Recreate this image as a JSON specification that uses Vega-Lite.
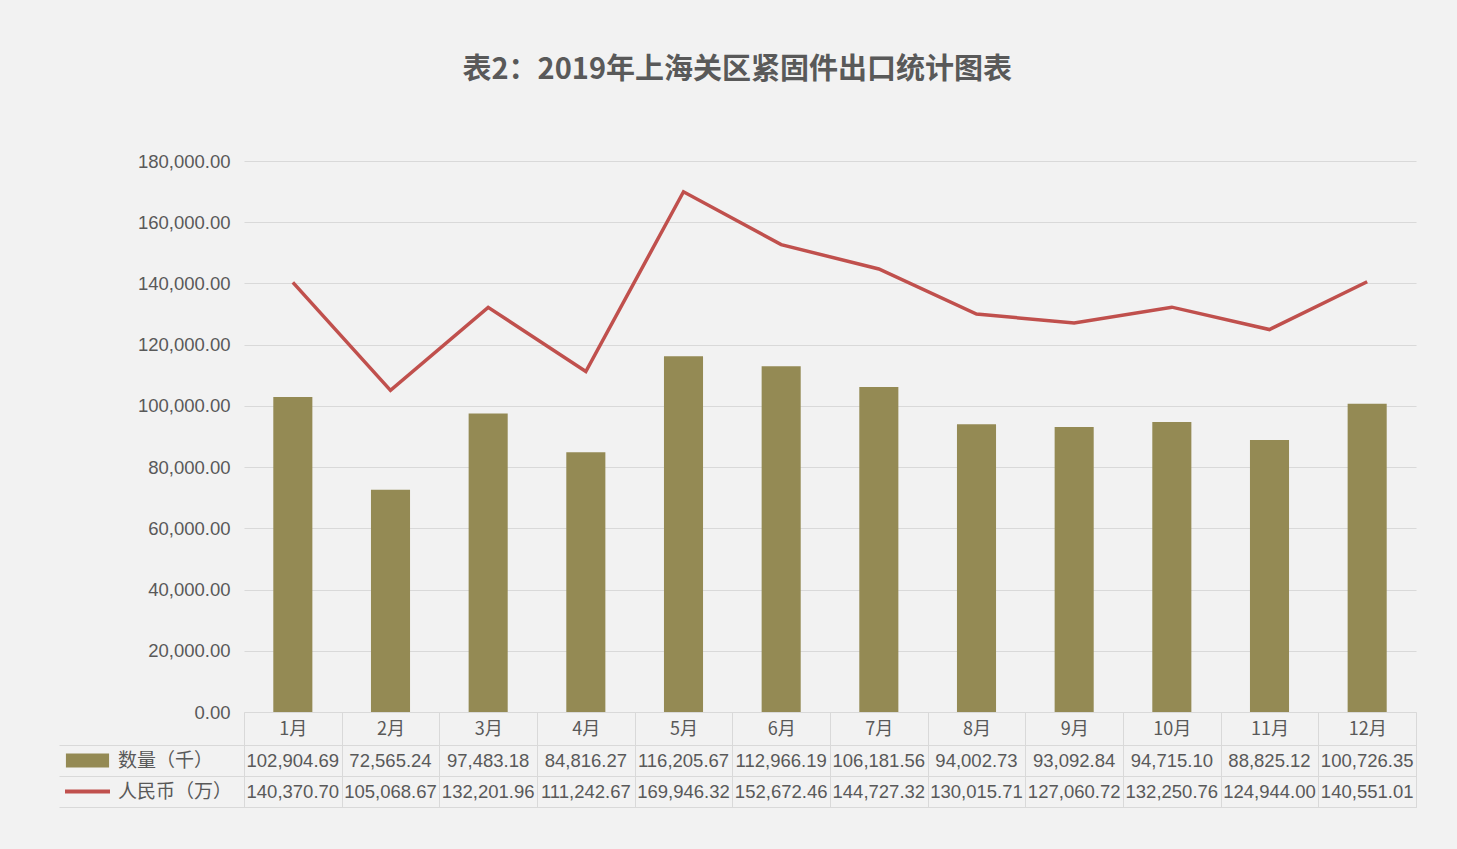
{
  "$schema": "https://vega.github.io/schema/vega-lite/v6.json",
  "background": "#F2F2F2",
  "padding": {"left": 58, "right": 42, "top": 56, "bottom": 43},
  "autosize": {"type": "pad"},
  "datasets": {
    "d": [
      {"month": "1月", "series": "数量（千）", "value": 102904.69},
      {"month": "2月", "series": "数量（千）", "value": 72565.24},
      {"month": "3月", "series": "数量（千）", "value": 97483.18},
      {"month": "4月", "series": "数量（千）", "value": 84816.27},
      {"month": "5月", "series": "数量（千）", "value": 116205.67},
      {"month": "6月", "series": "数量（千）", "value": 112966.19},
      {"month": "7月", "series": "数量（千）", "value": 106181.56},
      {"month": "8月", "series": "数量（千）", "value": 94002.73},
      {"month": "9月", "series": "数量（千）", "value": 93092.84},
      {"month": "10月", "series": "数量（千）", "value": 94715.10},
      {"month": "11月", "series": "数量（千）", "value": 88825.12},
      {"month": "12月", "series": "数量（千）", "value": 100726.35},
      {"month": "1月", "series": "人民币（万）", "value": 140370.70},
      {"month": "2月", "series": "人民币（万）", "value": 105068.67},
      {"month": "3月", "series": "人民币（万）", "value": 132201.96},
      {"month": "4月", "series": "人民币（万）", "value": 111242.67},
      {"month": "5月", "series": "人民币（万）", "value": 169946.32},
      {"month": "6月", "series": "人民币（万）", "value": 152672.46},
      {"month": "7月", "series": "人民币（万）", "value": 144727.32},
      {"month": "8月", "series": "人民币（万）", "value": 130015.71},
      {"month": "9月", "series": "人民币（万）", "value": 127060.72},
      {"month": "10月", "series": "人民币（万）", "value": 132250.76},
      {"month": "11月", "series": "人民币（万）", "value": 124944.00},
      {"month": "12月", "series": "人民币（万）", "value": 140551.01}
    ]
  },
  "data": {"name": "d"},
  "title": {
    "text": "表2：2019年上海关区紧固件出口统计图表",
    "font": "Noto Sans CJK SC",
    "fontSize": 29,
    "fontWeight": "bold",
    "color": "#595959",
    "anchor": "middle",
    "offset": 67
  },
  "bounds": "flush",
  "spacing": 33,
  "resolve": {"legend": {"color": "independent"}, "scale": {"color": "independent"}},
  "vconcat": [
    {
      "width": 1172,
      "height": 551,
      "encoding": {
        "x": {
          "field": "month",
          "type": "nominal",
          "sort": ["1月","2月","3月","4月","5月","6月","7月","8月","9月","10月","11月","12月"],
          "scale": {"paddingInner": 0, "paddingOuter": 0},
          "axis": {
            "title": null,
            "labelAngle": 0,
            "labelFont": "Noto Sans CJK SC",
            "labelFontSize": 18,
            "labelColor": "#595959",
            "labelBaseline": "middle",
            "labelPadding": -16,
            "tickBand": "extent",
            "tickSize": 33,
            "tickColor": "#D9D9D9",
            "domainColor": "#D9D9D9",
            "grid": false
          }
        },
        "y": {
          "field": "value",
          "type": "quantitative",
          "scale": {"domain": [0, 180000], "nice": false},
          "axis": {
            "title": null,
            "values": [0, 20000, 40000, 60000, 80000, 100000, 120000, 140000, 160000, 180000],
            "format": ",.2f",
            "labelFont": "Liberation Sans",
            "labelFontSize": 18.5,
            "labelColor": "#595959",
            "labelPadding": 14,
            "ticks": false,
            "domain": false,
            "gridColor": "#D9D9D9",
            "gridWidth": 1
          }
        },
        "color": {
          "field": "series",
          "type": "nominal",
          "scale": {"domain": ["数量（千）", "人民币（万）"], "range": ["#948A54", "#C0504D"]},
          "legend": {
            "orient": "none",
            "direction": "vertical",
            "legendX": -181,
            "legendY": 584,
            "title": null,
            "padding": 0,
            "clipHeight": 31,
            "rowPadding": 0,
            "symbolSize": 2025,
            "labelOffset": 6,
            "labelFont": "Noto Sans CJK SC",
            "labelFontSize": 19,
            "labelColor": "#595959",
            "encode": {
              "symbols": {
                "update": {
                  "shape": {"signal": "datum.value === '数量（千）' ? 'M-0.87,-0.22H0.87V0.22H-0.87Z' : 'stroke'"},
                  "fill": {"signal": "datum.value === '数量（千）' ? '#948A54' : 'transparent'"},
                  "stroke": {"signal": "datum.value === '数量（千）' ? 'transparent' : '#C0504D'"},
                  "strokeWidth": {"value": 4},
                  "opacity": {"value": 1}
                }
              }
            }
          }
        }
      },
      "layer": [
        {
          "transform": [{"filter": "datum.series === '数量（千）'"}],
          "mark": {"type": "bar", "width": {"band": 0.4}}
        },
        {
          "transform": [{"filter": "datum.series === '人民币（万）'"}],
          "mark": {"type": "line", "strokeWidth": 3.5}
        }
      ]
    },
    {
      "width": 1172,
      "height": 62,
      "view": {"stroke": "#D9D9D9"},
      "mark": {"type": "text", "font": "Liberation Sans", "fontSize": 18.5, "color": "#595959", "baseline": "middle"},
      "encoding": {
        "x": {
          "field": "month",
          "type": "nominal",
          "sort": ["1月","2月","3月","4月","5月","6月","7月","8月","9月","10月","11月","12月"],
          "scale": {"paddingInner": 0, "paddingOuter": 0},
          "axis": {"orient": "top", "title": null, "labels": false, "ticks": false, "domain": false, "grid": true, "tickBand": "extent", "gridColor": "#D9D9D9"}
        },
        "y": {
          "field": "series",
          "type": "nominal",
          "sort": ["数量（千）", "人民币（万）"],
          "scale": {"paddingInner": 0, "paddingOuter": 0},
          "axis": {"title": null, "labels": false, "ticks": true, "tickSize": 185, "tickBand": "extent", "tickColor": "#D9D9D9", "domain": false, "grid": true, "gridColor": "#D9D9D9"}
        },
        "text": {"field": "value", "type": "quantitative", "format": ",.2f"}
      }
    }
  ],
  "config": {"view": {"stroke": null}}
}
